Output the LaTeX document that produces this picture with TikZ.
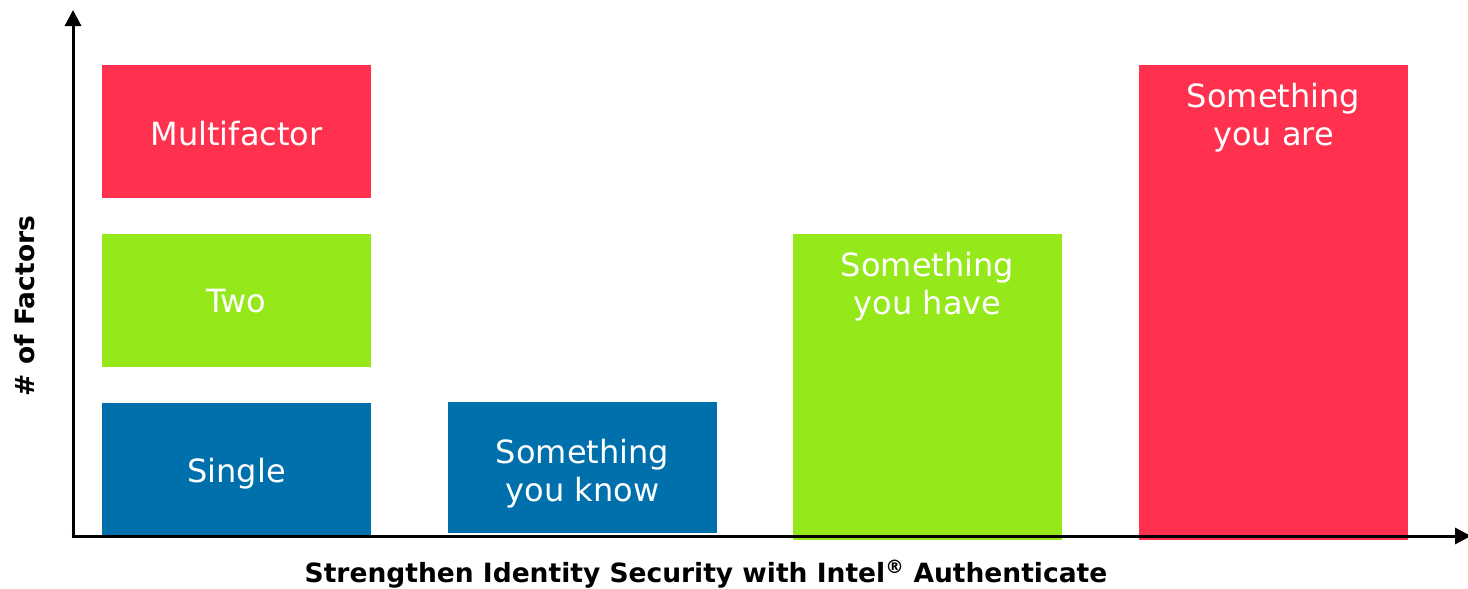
\documentclass[tikz,border=0pt]{standalone}
\usepackage{fontspec}
\setmainfont{DejaVu Sans}
\usetikzlibrary{arrows.meta}
\definecolor{barred}{RGB}{255,49,79}
\definecolor{bargreen}{RGB}{149,232,26}
\definecolor{barblue}{RGB}{0,112,173}
\tikzset{
  bar/.style={draw=none, inner sep=0pt, outer sep=0pt, anchor=north west,
    minimum width=269pt},
  bartext/.style={inner sep=0pt, text=white, font=\fontsize{32}{38}\selectfont, align=center},
  axis/.style={line width=3pt, -{Triangle[length=16pt,width=16pt]}},
  axislabel/.style={font=\fontsize{26.5}{30}\selectfont\bfseries}
}
\begin{document}
\begin{tikzpicture}[x=1pt,y=-1pt]
\useasboundingbox (0,0) rectangle (1468,589);
% legend column
\node[bar, fill=barred,   minimum height=133pt] (multi)  at (102,65)  {};
\node[bar, fill=bargreen, minimum height=133pt] (two)    at (102,234) {};
\node[bar, fill=barblue,  minimum height=132pt] (single) at (102,403) {};
\node[bartext] (multitext)  at ([yshift=-2pt]multi.center)  {Multifactor};
\node[bartext] (twotext)    at ([yshift=-1pt]two.center)    {Two};
\node[bartext] (singletext) at ([yshift=-5pt]single.center) {Single};
% factor bars
\node[bar, fill=barblue,  minimum height=131pt] (know) at (448,402) {};
\node[bar, fill=bargreen, minimum height=306pt] (have) at (793,234) {};
\node[bar, fill=barred,   minimum height=475pt] (are)  at (1139,65) {};
\node[bartext] (knowtext) at ([yshift=-6pt]know.center) {Something\\you know};
\node[bartext, anchor=north] (havetext) at ([yshift=-18pt]have.north) {Something\\you have};
\node[bartext, anchor=north] (aretext)  at ([yshift=-18pt]are.north)  {Something\\you are};
% axes
\coordinate (O) at (73,536);
\coordinate (ytop) at (73,10);
\coordinate (xend) at (1471,536);
\draw[axis] ([yshift=1.5pt]O) -- (ytop);
\draw[axis] ([xshift=-1.5pt]O) -- (xend);
% axis labels
\node[axislabel] (xlabel) at (706,574) {Strengthen Identity Security with Intel\textsuperscript{®} Authenticate};
\node[axislabel, rotate=90] (ylabel) at (25,306) {\# of Factors};
\end{tikzpicture}
\end{document}
